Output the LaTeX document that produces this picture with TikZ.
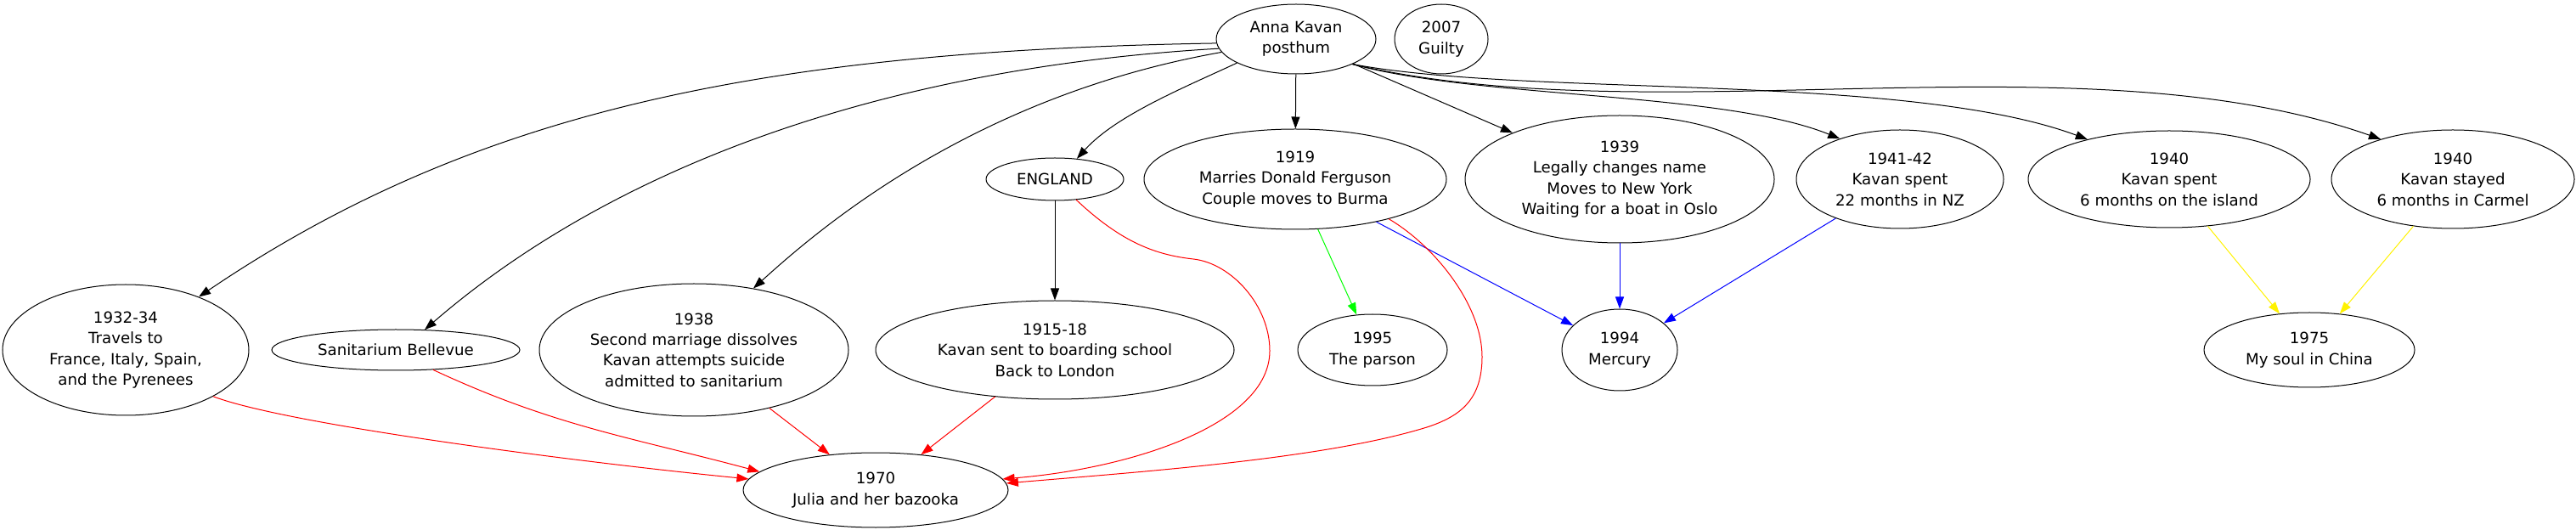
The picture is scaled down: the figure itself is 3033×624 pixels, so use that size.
\documentclass[tikz,border=0pt]{standalone}
\usepackage{fontspec}
\setmainfont{DejaVu Sans}
\usetikzlibrary{shapes,arrows.meta}
\tikzstyle{ev}=[ellipse, draw=black, line width=0.5pt, inner sep=0pt, align=center, font=\fontsize{9.1}{12.2}\selectfont]
\tikzstyle{l1}=[line width=0.5pt, -{Triangle[length=7pt, width=5pt]}]

\begin{document}
\begin{tikzpicture}[x=0.5pt, y=-0.5pt]
    \useasboundingbox (0,0) rectangle (3033,624);
    % top row
    \node[ev, minimum width=94pt, minimum height=41pt] at (1526,46) (anna) {Anna Kavan\\posthum};
    \node[ev, minimum width=55pt, minimum height=41pt] at (1697,46) (guilty) {2007\\Guilty};
    % second row
    \node[ev, minimum width=81pt, minimum height=25pt] at (1242,211) (england) {ENGLAND};
    \node[ev, minimum width=178pt, minimum height=59pt] at (1525,211) (y1919) {1919\\Marries Donald Ferguson\\Couple moves to Burma};
    \node[ev, minimum width=182pt, minimum height=75pt] at (1907,211) (y1939) {1939\\Legally changes name\\Moves to New York\\Waiting for a boat in Oslo};
    \node[ev, minimum width=122pt, minimum height=58pt] at (2237,211) (y4142) {1941-42\\Kavan spent\\22 months in NZ};
    \node[ev, minimum width=166pt, minimum height=57pt] at (2554,211) (island) {1940\\Kavan spent\\6 months on the island};
    \node[ev, minimum width=143pt, minimum height=58pt] at (2888,211) (carmel) {1940\\Kavan stayed\\6 months in Carmel};
    % third row
    \node[ev, minimum width=145pt, minimum height=77pt] at (148,412) (y3234) {1932-34\\Travels to\\France, Italy, Spain,\\and the Pyrenees};
    \node[ev, minimum width=146pt, minimum height=24pt] at (466,412) (sanit) {Sanitarium Bellevue};
    \node[ev, minimum width=182pt, minimum height=78pt] at (817,412) (y1938) {1938\\Second marriage dissolves\\Kavan attempts suicide\\admitted to sanitarium};
    \node[ev, minimum width=211pt, minimum height=58pt] at (1242,412) (y1518) {1915-18\\Kavan sent to boarding school\\Back to London};
    \node[ev, minimum width=88pt, minimum height=42pt] at (1616,412) (parson) {1995\\The parson};
    \node[ev, minimum width=68pt, minimum height=48pt] at (1907,412) (mercury) {1994\\Mercury};
    \node[ev, minimum width=124pt, minimum height=44pt] at (2719,412) (china) {1975\\My soul in China};
    % bottom
    \node[ev, minimum width=156pt, minimum height=44pt] at (1031,577) (bazooka) {1970\\Julia and her bazooka};

    % from the top node
    \draw[l1] (anna.183) .. controls +(-532,9) and +(325,-220) .. (y3234.36);
    \draw[l1] (anna.187) .. controls +(-432,25) and +(200,-173) .. (sanit.35);
    \draw[l1] (anna.190) .. controls +(-295,52) and +(74,-67) .. (y1938.46);
    \draw[l1] (anna.202) to[out=205, in=48, looseness=0.8] (england.43);
    \draw[l1] (anna) -- (y1919);
    \draw[l1] (anna) -- (y1939);
    \draw[l1] (anna.336) .. controls +(150,41) and +(-139,-56) .. (y4142.146);
    \draw[l1] (anna.336) .. controls +(208,39) and +(-213,-79) .. (island.154);
    \draw[l1] (anna.336) .. controls +(358,84) and +(-352,-124) .. (carmel.151);
    \draw[l1] (england) -- (y1518);

    \draw[l1, green] (y1919) -- (parson);
    \draw[l1, blue] (y1919) -- (mercury);
    \draw[l1, blue] (y1939) -- (mercury);
    \draw[l1, blue] (y4142) -- (mercury);
    \draw[l1, yellow] (island) -- (china);
    \draw[l1, yellow] (carmel) -- (china);

    \draw[l1, red] (y3234.332) .. controls +(89,34) and +(-184,-18) .. (bazooka.175);
    \draw[l1, red] (sanit.332) to[out=-25, in=165] (bazooka.171);
    \draw[l1, red] (y1938) -- (bazooka);
    \draw[l1, red] (y1518) -- (bazooka);
    \draw[l1, red] (england.316) .. controls (1320,285) and (1360,300) .. (1405,305)
        .. controls (1450,310) and (1495,360) .. (1495,413)
        .. controls (1495,500) and (1330,552) .. (bazooka.5);
    \draw[l1, red] (y1919.337) .. controls (1690,290) and (1745,360) .. (1745,420)
        .. controls (1745,470) and (1720,490) .. (1680,503)
        .. controls (1560,540) and (1350,555) .. (bazooka.3);
\end{tikzpicture}
\end{document}
